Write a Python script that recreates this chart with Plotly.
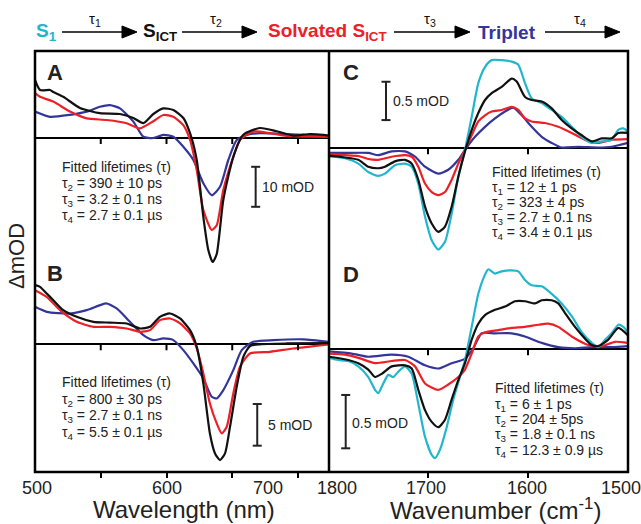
import plotly.graph_objects as go

# ---------------- data ----------------
# Panel A (wavelength nm, mOD)
a_black_x = [500, 503.8, 511.4, 513.9, 521.5, 534.2, 549.4, 564.6, 574.8, 582.4, 590, 597.6, 605.2, 612.8, 617.9, 623, 628, 631.8, 635.1, 638.2, 643.2, 650.8, 658.4, 671.1, 683.8, 696.5, 709.1, 719.3, 723.6]
a_black_y = [14.5, 12, 12, 11.5, 10.3, 7.5, 6.2, 6, 5, 3.7, 6, 7.4, 7, 5, 1.2, -5.5, -19.7, -28, -31, -29, -15.5, -4.7, 0.8, 2.5, 1.7, 0.6, 1, 0.8, 0.6]
a_red_x = [500, 503.8, 513.9, 526.6, 539.3, 554.5, 569.7, 579.8, 590, 597.6, 605.2, 612.8, 617.9, 623, 628, 634.4, 638.2, 643.2, 650.8, 655.9, 666, 678.7, 691.4, 723.6]
a_red_y = [11.2, 10.3, 9.1, 6.6, 4.9, 4.5, 3.7, 2.4, 4.2, 5.75, 5.3, 3.2, -0.5, -8, -18, -23, -21.8, -13, -4.7, -0.5, 1.6, 1.2, 0.5, 0.3]
a_blue_x = [500, 511.4, 526.6, 539.3, 549.4, 557, 564.6, 574.8, 582.4, 590, 597.6, 605.2, 612.8, 620.4, 628, 634.4, 640.7, 647, 653.4, 661, 671.1, 691.4, 723.6]
a_blue_y = [6.6, 5.3, 5.8, 6.6, 7.8, 8.2, 7.4, 4.1, 0.3, 0, 0.8, 0.3, -2.2, -5.5, -11.3, -14.3, -12.2, -5.5, -0.5, 0.75, 1.2, 1, 0.5]

# Panel B
b_black_x = [500, 503.8, 508.9, 513.9, 521.5, 531.7, 544.4, 557, 569.7, 579.8, 587.5, 595, 602.7, 610.3, 617.9, 623, 628, 633, 636.9, 640.7, 644.5, 648.3, 653.4, 658.4, 663.5, 671.1, 691.4, 723.6]
b_black_y = [7.1, 6.9, 6.1, 5.3, 4.1, 3.3, 2.7, 2.6, 2.5, 1.9, 2.1, 3.3, 3.7, 3.1, 1.7, -0.3, -4.7, -10.7, -13.1, -13.9, -13.1, -9.9, -5.1, -1.5, -0.2, 0, 0.1, 0.15]
b_red_x = [500, 508.9, 519, 531.7, 544.4, 557, 569.7, 579.8, 587.5, 595, 602.7, 610.3, 617.9, 623, 628, 633, 638.2, 642, 645.8, 650.8, 655.9, 663.5, 678.7, 696.4, 723.6]
b_red_y = [6.5, 5.7, 4.1, 2.7, 2.1, 2.1, 1.9, 1.5, 1.7, 2.9, 3.1, 2.5, 1.3, -0.5, -3.5, -7.1, -9.5, -10.7, -9.9, -5.9, -2.7, -1.1, -0.9, -0.5, 0]
b_blue_x = [500, 508.9, 526.6, 539.3, 549.4, 554.5, 562.1, 572.2, 582.4, 590, 597.6, 605.2, 612.8, 620.4, 628, 634.4, 638.2, 643.2, 650.8, 657.2, 666, 681.2, 704, 723.6]
b_blue_y = [4.5, 3.9, 3.7, 4.1, 4.7, 4.9, 4.3, 2.7, 1.1, 0.5, 0.7, 0.5, -0.7, -2.3, -4.1, -6.3, -6.5, -5.5, -3.1, -0.7, 0.3, 0.5, 0.6, 0.3]

# Panel C (wavenumber cm-1, mOD)
c_cyan_x = [1799, 1796.3, 1783, 1769.7, 1759.7, 1749.7, 1743, 1733, 1723, 1716.3, 1709.7, 1703, 1696.3, 1689.7, 1683, 1676.3, 1669.7, 1663, 1656.3, 1649.7, 1643, 1636.3, 1626.3, 1616.3, 1609.7, 1603, 1596.3, 1586.3, 1576.3, 1566.3, 1556.3, 1546.3, 1536.3, 1526.3, 1516.3, 1509.7, 1504.7, 1500]
c_cyan_y = [-0.11, -0.11, -0.13, -0.2, -0.31, -0.36, -0.33, -0.22, -0.2, -0.24, -0.46, -0.89, -1.2, -1.32, -1.22, -0.85, -0.37, -0.02, 0.41, 0.85, 1.06, 1.15, 1.15, 1.13, 1.09, 0.85, 0.65, 0.59, 0.5, 0.41, 0.28, 0.15, 0.07, 0.09, 0.11, 0.24, 0.26, 0.22]
c_black_x = [1799, 1796.3, 1783, 1769.7, 1759.7, 1749.7, 1743, 1733, 1723, 1716.3, 1709.7, 1703, 1696.3, 1689.7, 1683, 1676.3, 1669.7, 1663, 1656.3, 1649.7, 1643, 1636.3, 1626.3, 1616.3, 1611.3, 1603, 1596.3, 1586.3, 1576.3, 1566.3, 1556.3, 1546.3, 1536.3, 1526.3, 1516.3, 1509.7, 1500]
c_black_y = [-0.1, -0.1, -0.12, -0.15, -0.24, -0.26, -0.24, -0.17, -0.15, -0.2, -0.41, -0.76, -0.98, -1.09, -1.02, -0.76, -0.37, -0.04, 0.24, 0.46, 0.63, 0.72, 0.8, 0.91, 0.87, 0.67, 0.63, 0.61, 0.52, 0.37, 0.26, 0.17, 0.09, 0.13, 0.13, 0.2, 0.2]
c_red_x = [1799, 1796.3, 1783, 1769.7, 1759.7, 1749.7, 1736.3, 1723, 1716.3, 1709.7, 1703, 1696.3, 1689.7, 1683, 1676.3, 1669.7, 1663, 1656.3, 1649.7, 1643, 1636.3, 1626.3, 1616.3, 1609.7, 1603, 1596.3, 1583, 1569.7, 1556.3, 1543, 1529.7, 1516.3, 1500]
c_red_y = [-0.08, -0.08, -0.09, -0.1, -0.14, -0.15, -0.11, -0.09, -0.11, -0.24, -0.46, -0.57, -0.61, -0.57, -0.41, -0.2, -0.02, 0.17, 0.35, 0.43, 0.48, 0.5, 0.54, 0.5, 0.39, 0.35, 0.33, 0.28, 0.2, 0.11, 0.07, 0.11, 0.12]
c_blue_x = [1799, 1796.3, 1783, 1759.7, 1749.7, 1736.3, 1723, 1713, 1703, 1689.7, 1679.7, 1669.7, 1663, 1653, 1643, 1633, 1623, 1614.7, 1606.3, 1596.3, 1586.3, 1576.3, 1566.3, 1549.7, 1529.7, 1516.3, 1500]
c_blue_y = [-0.06, -0.06, -0.06, -0.06, -0.09, -0.04, -0.04, -0.11, -0.24, -0.33, -0.28, -0.15, -0.02, 0.15, 0.28, 0.39, 0.48, 0.53, 0.43, 0.28, 0.15, 0.07, 0.01, 0.02, 0.01, 0.02, 0.07]

# Panel D
d_cyan_x = [1799, 1789.7, 1779.7, 1769.7, 1759.7, 1753, 1749.7, 1744.7, 1739.7, 1734.7, 1729.7, 1723, 1716.3, 1709.7, 1703, 1696.3, 1693, 1688, 1681.3, 1674.7, 1668, 1663, 1656.3, 1649.7, 1643, 1639.7, 1633, 1626.3, 1616.3, 1609.7, 1603, 1596.3, 1586.3, 1576.3, 1566.3, 1556.3, 1546.3, 1536.3, 1529.7, 1523, 1516.3, 1509.7, 1504.7, 1500]
d_cyan_y = [-0.08, -0.1, -0.11, -0.16, -0.26, -0.38, -0.41, -0.32, -0.24, -0.26, -0.21, -0.16, -0.23, -0.51, -0.82, -0.99, -1.02, -0.94, -0.73, -0.47, -0.26, -0.1, 0.21, 0.52, 0.7, 0.75, 0.71, 0.73, 0.74, 0.73, 0.65, 0.6, 0.59, 0.52, 0.43, 0.31, 0.16, 0.06, 0.02, 0.09, 0.15, 0.23, 0.21, 0.16]
d_black_x = [1799, 1779.7, 1769.7, 1759.7, 1753, 1746.3, 1736.3, 1723, 1716.3, 1709.7, 1703, 1696.3, 1689.7, 1683, 1676.3, 1669.7, 1663, 1656.3, 1649.7, 1643, 1633, 1623, 1613, 1603, 1593, 1586.3, 1576.3, 1569.7, 1563, 1553, 1543, 1536.3, 1529.7, 1519.7, 1509.7, 1500]
d_black_y = [-0.07, -0.1, -0.13, -0.19, -0.26, -0.23, -0.16, -0.15, -0.18, -0.38, -0.57, -0.68, -0.73, -0.66, -0.47, -0.29, -0.13, 0.09, 0.24, 0.32, 0.37, 0.4, 0.45, 0.45, 0.43, 0.46, 0.46, 0.43, 0.34, 0.21, 0.1, 0.04, 0.03, 0.09, 0.2, 0.13]
d_red_x = [1799, 1783, 1769.7, 1753, 1736.3, 1723, 1713, 1703, 1689.7, 1679.7, 1669.7, 1663, 1656.3, 1649.7, 1643, 1629.7, 1616.3, 1603, 1589.7, 1579.7, 1569.7, 1556.3, 1539.7, 1526.3, 1513, 1500]
d_red_y = [-0.04, -0.05, -0.08, -0.13, -0.11, -0.1, -0.16, -0.32, -0.38, -0.33, -0.26, -0.19, -0.04, 0.12, 0.16, 0.18, 0.2, 0.21, 0.23, 0.24, 0.21, 0.12, 0.04, 0.03, 0.07, 0.06]
d_blue_x = [1799, 1776.3, 1759.7, 1736.3, 1719.7, 1703, 1689.7, 1676.3, 1663, 1654.7, 1646.3, 1633, 1616.3, 1603, 1586.3, 1569.7, 1553, 1536.3, 1516.3, 1500]
d_blue_y = [-0.02, -0.04, -0.07, -0.05, -0.07, -0.15, -0.18, -0.13, -0.09, 0.01, 0.15, 0.15, 0.15, 0.12, 0.06, 0.02, 0.01, 0.02, 0.02, 0.03]

# tick labels
left_ticks = [550, 600, 650, 700]
right_ticks = [1700, 1600]
left_labels = ["500", "600", "700"]
right_labels = ["1800", "1700", "1600", "1500"]

# scale bar sizes (mOD)
scale_A, scale_B, scale_C, scale_D = 10, 5, 0.5, 0.5

# fitted lifetime texts
txt_A = ["Fitted lifetimes (τ)", "τ<sub>2</sub> = 390 ± 10 ps", "τ<sub>3</sub> = 3.2 ± 0.1 ns", "τ<sub>4</sub> = 2.7 ± 0.1 µs"]
txt_B = ["Fitted lifetimes (τ)", "τ<sub>2</sub> = 800 ± 30 ps", "τ<sub>3</sub> = 2.7 ± 0.1 ns", "τ<sub>4</sub> = 5.5 ± 0.1 µs"]
txt_C = ["Fitted lifetimes (τ)", "τ<sub>1</sub> = 12 ± 1 ps", "τ<sub>2</sub> = 323 ± 4 ps", "τ<sub>3</sub> = 2.7 ± 0.1 ns", "τ<sub>4</sub> = 3.4 ± 0.1 µs"]
txt_D = ["Fitted lifetimes (τ)", "τ<sub>1</sub> = 6 ± 1 ps", "τ<sub>2</sub> = 204 ± 5ps", "τ<sub>3</sub> = 1.8 ± 0.1 ns", "τ<sub>4</sub> = 12.3 ± 0.9 µs"]

# ---------------- styling / layout ----------------
BLACK, RED, BLUE, CYAN = "#111111", "#ec2027", "#34359a", "#22b6cc"
FONT = "Arial, Liberation Sans, Helvetica, sans-serif"
W, H = 641, 524
L, R, T, B = 35, 628, 51, 472   # plot area in pixels
XSPLIT = (329 - L) / (R - L)
YSPLIT = (B - 265) / (B - T)

def px(x):
    return (x - L) / (R - L)

def py(y):
    return (B - y) / (B - T)

fig = go.Figure()

def add(x, y, color, xa, ya):
    fig.add_trace(go.Scatter(x=x, y=y, mode="lines", xaxis=xa, yaxis=ya,
                             line=dict(color=color, width=2.2, shape="spline", smoothing=0.6),
                             showlegend=False, hoverinfo="skip"))

add(a_blue_x, a_blue_y, BLUE, "x", "y")
add(a_red_x, a_red_y, RED, "x", "y")
add(a_black_x, a_black_y, BLACK, "x", "y")
add(b_blue_x, b_blue_y, BLUE, "x", "y2")
add(b_red_x, b_red_y, RED, "x", "y2")
add(b_black_x, b_black_y, BLACK, "x", "y2")
add(c_blue_x, c_blue_y, BLUE, "x2", "y3")
add(c_red_x, c_red_y, RED, "x2", "y3")
add(c_cyan_x, c_cyan_y, CYAN, "x2", "y3")
add(c_black_x, c_black_y, BLACK, "x2", "y3")
add(d_blue_x, d_blue_y, BLUE, "x2", "y4")
add(d_red_x, d_red_y, RED, "x2", "y4")
add(d_cyan_x, d_cyan_y, CYAN, "x2", "y4")
add(d_black_x, d_black_y, BLACK, "x2", "y4")

xcommon = dict(showgrid=False, zeroline=False, showline=False, ticks="outside",
               ticklen=5, tickwidth=2, tickcolor="black", showticklabels=False)
ycommon = dict(showgrid=False, zeroline=True, zerolinecolor="black", zerolinewidth=2,
               showline=False, ticks="", showticklabels=False)

fig.update_layout(
    width=W, height=H, margin=dict(l=L, r=W - R, t=T, b=H - B),
    paper_bgcolor="white", plot_bgcolor="white",
    font=dict(family=FONT, color="#222222"),
    xaxis=dict(domain=[0, XSPLIT], range=[500, 500 + (329 - L) / 1.315], anchor="y2",
               tickvals=left_ticks, **xcommon),
    xaxis2=dict(domain=[XSPLIT, 1], range=[1799, 1500], anchor="y4",
                tickvals=right_ticks, **xcommon),
    yaxis=dict(domain=[YSPLIT, 1], range=[-31.75, 21.75], anchor="x", **ycommon),
    yaxis2=dict(domain=[0, YSPLIT], range=[-15.33, 9.52], anchor="x", **ycommon),
    yaxis3=dict(domain=[YSPLIT, 1], range=[-1.522, 1.269], anchor="x2", **ycommon),
    yaxis4=dict(domain=[0, YSPLIT], range=[-1.15, 0.79], anchor="x2", **ycommon),
)

shapes = []
# frame and divider
shapes.append(dict(type="rect", xref="paper", yref="paper", x0=0, x1=1, y0=0, y1=1,
                   line=dict(color="black", width=2.5), layer="above"))
shapes.append(dict(type="line", xref="paper", yref="paper", x0=XSPLIT, x1=XSPLIT, y0=0, y1=1,
                   line=dict(color="black", width=2.5), layer="above"))
# ticks on zero lines
for xa, ya, ticks in [("x", "y", left_ticks), ("x", "y2", left_ticks),
                      ("x2", "y3", right_ticks), ("x2", "y4", right_ticks)]:
    for t in ticks:
        shapes.append(dict(type="line", xref=xa, yref=ya, x0=t, x1=t, ysizemode="pixel",
                           yanchor=0, y0=0, y1=-6, line=dict(color="black", width=2)))

# scale bars
def scalebar(xa, ya, xpos, top, size):
    line = dict(color="#222222", width=2)
    shapes.append(dict(type="line", xref=xa, yref=ya, x0=xpos, x1=xpos, y0=top, y1=top - size, line=line))
    for yv in (top, top - size):
        shapes.append(dict(type="line", xref=xa, yref=ya, xsizemode="pixel", xanchor=xpos,
                           x0=-4.5, x1=4.5, y0=yv, y1=yv, line=line))

scalebar("x", "y", 667.8, -7.2, scale_A)
scalebar("x", "y2", 669.0, -7.17, scale_B)
scalebar("x2", "y3", 1742, 0.868, scale_C)
scalebar("x2", "y4", 1782.3, -0.428, scale_D)

# header arrows
ARROW_Y = 32
for x0, x1 in [(62, 137), (182, 257), (394, 470), (545, 620)]:
    shapes.append(dict(type="line", xref="paper", yref="paper", x0=px(x0), x1=px(x1 - 10),
                       y0=py(ARROW_Y), y1=py(ARROW_Y), line=dict(color="black", width=1.5)))
    path = "M {} {} L {} {} L {} {} Z".format(px(x1 - 15), py(ARROW_Y - 6), px(x1 - 15), py(ARROW_Y + 6),
                                             px(x1), py(ARROW_Y))
    shapes.append(dict(type="path", xref="paper", yref="paper", path=path,
                       fillcolor="black", line=dict(color="black", width=1)))

fig.update_layout(shapes=shapes)

ann = []
def text(x, y, s, size=14, color="#222222", bold=False, xanchor="left", angle=0):
    if bold:
        s = "<b>" + s + "</b>"
    ann.append(dict(xref="paper", yref="paper", x=px(x), y=py(y), text=s, showarrow=False,
                    xanchor=xanchor, yanchor="middle", textangle=angle,
                    font=dict(size=size, color=color, family=FONT)))

# header
text(46, 32, "S<sub>1</sub>", 19, CYAN, True, "center")
text(160, 32, "S<sub>ICT</sub>", 19, "#111111", True, "center")
text(327, 32, "Solvated S<sub>ICT</sub>", 19, RED, True, "center")
text(507, 32, "Triplet", 19, BLUE, True, "center")
for xc, k in [(95, 1), (216, 2), (430, 3), (580, 4)]:
    text(xc, 20, "τ<sub>%d</sub>" % k, 15, "#111111", False, "center")

# panel letters
for x, y, s in [(55, 73, "A"), (55, 273, "B"), (351, 73, "C"), (351, 274, "D")]:
    text(x, y, s, 22, "#222222", True, "center")

# fitted lifetimes
for x0, ys, lines in [(60, [167, 184, 200, 216], txt_A), (60, [382, 400, 416, 433], txt_B),
                      (490, [172, 188, 203, 218, 233], txt_C), (493, [388, 405, 420, 435, 451], txt_D)]:
    for y, s in zip(ys, lines):
        text(x0, y, s, 14)

# scale bar labels
text(260, 187, "%g mOD" % scale_A, 14)
text(266, 425, "%g mOD" % scale_B, 14)
text(391, 101, "%g mOD" % scale_C, 14)
text(350, 423, "%g mOD" % scale_D, 14)

# tick labels
for x, s in zip([37, 167, 268], left_labels):
    text(x, 488, s, 18, "#222222", False, "center")
for x, s in zip([337, 426, 527, 621], right_labels):
    text(x, 488, s, 18, "#222222", False, "center")

# axis titles
text(184, 509, "Wavelength (nm)", 24, "#222222", False, "center")
text(495, 509, "Wavenumber (cm<sup>-1</sup>)", 24, "#222222", False, "center")
text(17, 256, "ΔmOD", 22, "#222222", False, "center", -90)

fig.update_layout(annotations=ann)
fig.write_html("out.html", config={"displayModeBar": False},
               post_script="document.body.style.margin='0px';")
